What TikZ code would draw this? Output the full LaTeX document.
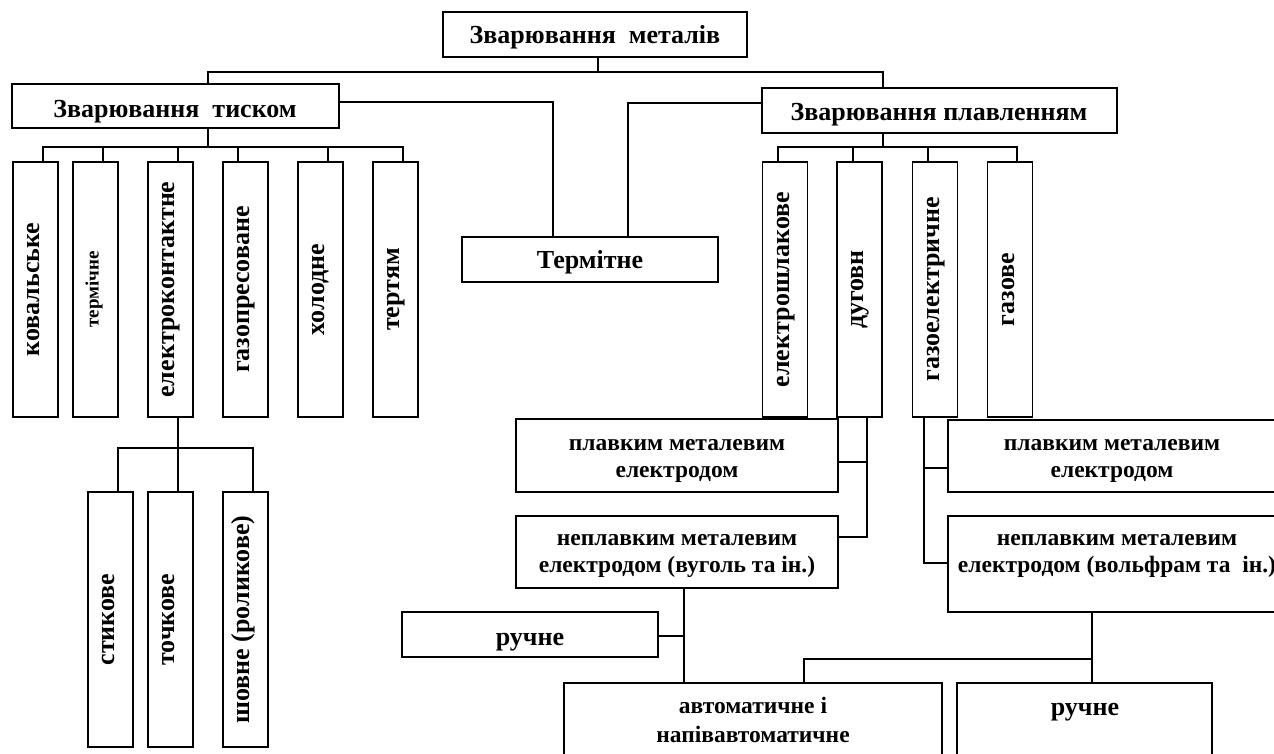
\documentclass[tikz,border=0pt]{standalone}
\usepackage{fontspec}
\setmainfont{Liberation Serif}
\begin{document}
\begin{tikzpicture}[x=1pt,y=-1pt,line width=1.8pt,
  box/.style={draw,line width=1.8pt,inner sep=0pt},
  big/.style={font=\bfseries\fontsize{26}{30}\selectfont,inner sep=0pt},
  hb/.style={big,anchor=base},
  mid/.style={font=\bfseries\fontsize{23.5}{27}\selectfont,inner sep=0pt,anchor=base},
  vt/.style={big,rotate=90,text height=0.9em,text depth=0.1em},
  vts/.style={font=\bfseries\fontsize{19}{22}\selectfont,inner sep=0pt,rotate=90,text height=0.8em,text depth=0.2em}]
\useasboundingbox (0,0) rectangle (1274,753);
% --- boxes ---
\node[box,minimum width=304pt,minimum height=45pt] (top) at (595,34.5) {};
\node[box,minimum width=327pt,minimum height=44pt] (tisk) at (175.5,106) {};
\node[box,minimum width=355pt,minimum height=45pt] (plav) at (939.5,110.5) {};
\node[box,minimum width=256pt,minimum height=45pt] (termit) at (590,259.5) {};
\foreach \n/\x in {kov/35.5,term/95.5,elk/170.5,gaz/245.5,hol/320.5,ter/395.5,esh/785,dug/859.5,gel/935,gzv/1010}
  \node[box,minimum width=45pt,minimum height=255pt] (\n) at (\x,289.5) {};
\foreach \n/\x in {styk/110.5,toch/170.5,shov/245.5}
  \node[box,minimum width=45pt,minimum height=255pt] (\n) at (\x,619.5) {};
\node[box,minimum width=322pt,minimum height=73pt] (plavL) at (677,455.5) {};
\node[box,minimum width=322pt,minimum height=72pt] (neplL) at (677,552) {};
\node[box,minimum width=256pt,minimum height=45pt] (ruchL) at (530,634.5) {};
\node[box,minimum width=378pt,minimum height=97pt] (avt) at (753,731.5) {};
\node[box,minimum width=255pt,minimum height=97pt] (ruchR) at (1084.5,731.5) {};
\node[box,minimum width=332pt,minimum height=72pt] (plavR) at (1114,456) {};
\node[box,minimum width=338pt,minimum height=96pt] (neplR) at (1117,564) {};
% --- horizontal texts ---
\node[hb] (topT) at (595,43) {Зварювання\ \ металів};
\node[hb] (tiskT) at (175,117) {Зварювання\ \ тиском};
\node[hb] (plavT) at (939,120) {Зварювання плавленням};
\node[hb] (termitT) at (590,268) {Термітне};
\node[mid] (plavLa) at (677,450) {плавким металевим};
\node[mid] (plavLb) at (677,477) {електродом};
\node[mid] (neplLa) at (677,545) {неплавким металевим};
\node[mid] (neplLb) at (677,572) {електродом (вуголь та ін.)};
\node[hb] (ruchLT) at (530,645) {ручне};
\node[mid] (avta) at (753,713) {автоматичне і};
\node[mid] (avtb) at (753,742) {напівавтоматичне};
\node[mid] (plavRa) at (1112,450) {плавким металевим};
\node[mid] (plavRb) at (1112,477) {електродом};
\node[mid] (neplRa) at (1117,545) {неплавким металевим};
\node[mid] (neplRb) at (1117,572) {електродом (вольфрам та\ \ ін.)};
\node[hb] (ruchRT) at (1085,715) {ручне};
% --- vertical texts ---
\node[vt] (kovT) at (kov) {ковальське};
\node[vts] (termT) at (term) {термічне};
\node[vt] (elkT) at (elk) {електроконтактне};
\node[vt] (gazT) at (gaz) {газопресоване};
\node[vt] (holT) at (hol) {холодне};
\node[vt] (terT) at (ter) {тертям};
\node[vt] (eshT) at (esh) {електрошлакове};
\node[vt] (dugT) at (dug) {дуговн};
\node[vt] (gelT) at (gel) {газоелектричне};
\node[vt] (gzvT) at (gzv) {газове};
\node[vt] (stykT) at (styk) {стикове};
\node[vt] (tochT) at (toch) {точкове};
\node[vt] (shovT) at (shov) {шовне (роликове)};
% --- connectors ---
\coordinate (b0) at (598,72);
\coordinate (b1) at (208,72);
\coordinate (b2) at (883,72);
\draw (top.south -| b0) -- (b0);
\draw (tisk.north -| b1) -- (b1) -- (b2) -- (plav.north -| b2);
\coordinate (t1) at (553,102);
\coordinate (t2) at (628,103);
\draw (tisk.east |- t1) -- (t1) -- (termit.north -| t1);
\draw (plav.west |- t2) -- (t2) -- (termit.north -| t2);
\coordinate (lb) at (208,147);
\coordinate (s1) at (43,147);
\coordinate (s2) at (103,147);
\coordinate (s3) at (178,147);
\coordinate (s4) at (238,147);
\coordinate (s5) at (328,147);
\coordinate (s6) at (403,147);
\draw (tisk.south -| lb) -- (lb);
\draw (kov.north -| s1) -- (s1) -- (s6) -- (ter.north -| s6);
\draw (s2) -- (term.north -| s2);
\draw (s3) -- (elk.north -| s3);
\draw (s4) -- (gaz.north -| s4);
\draw (s5) -- (hol.north -| s5);
\coordinate (e0) at (178,448);
\coordinate (e1) at (118,448);
\coordinate (e3) at (253,448);
\draw (elk.south -| e0) -- (toch.north -| e0);
\draw (styk.north -| e1) -- (e1) -- (e3) -- (shov.north -| e3);
\coordinate (pb) at (883,147);
\coordinate (r1) at (778,147);
\coordinate (r2) at (853,147);
\coordinate (r3) at (928,147);
\coordinate (r4) at (1017,147);
\draw (plav.south -| pb) -- (pb);
\draw (esh.north -| r1) -- (r1) -- (r4) -- (gzv.north -| r4);
\draw (r2) -- (dug.north -| r2);
\draw (r3) -- (gel.north -| r3);
\coordinate (d1) at (867,462);
\coordinate (d2) at (867,537);
\draw (dug.south -| d1) -- (d2) -- (neplL.east |- d2);
\draw (d1) -- (plavL.east |- d1);
\coordinate (g1) at (924,468);
\coordinate (g2) at (924,563);
\draw (gel.south -| g1) -- (g2) -- (neplR.west |- g2);
\draw (g1) -- (plavR.west |- g1);
\coordinate (n1) at (684,636);
\draw (neplL.south -| n1) -- (avt.north -| n1);
\draw (n1) -- (ruchL.east |- n1);
\coordinate (m1) at (1092,659);
\coordinate (m2) at (804,659);
\draw (neplR.south -| m1) -- (ruchR.north -| m1);
\draw (m1) -- (m2) -- (avt.north -| m2);
\end{tikzpicture}
\end{document}
